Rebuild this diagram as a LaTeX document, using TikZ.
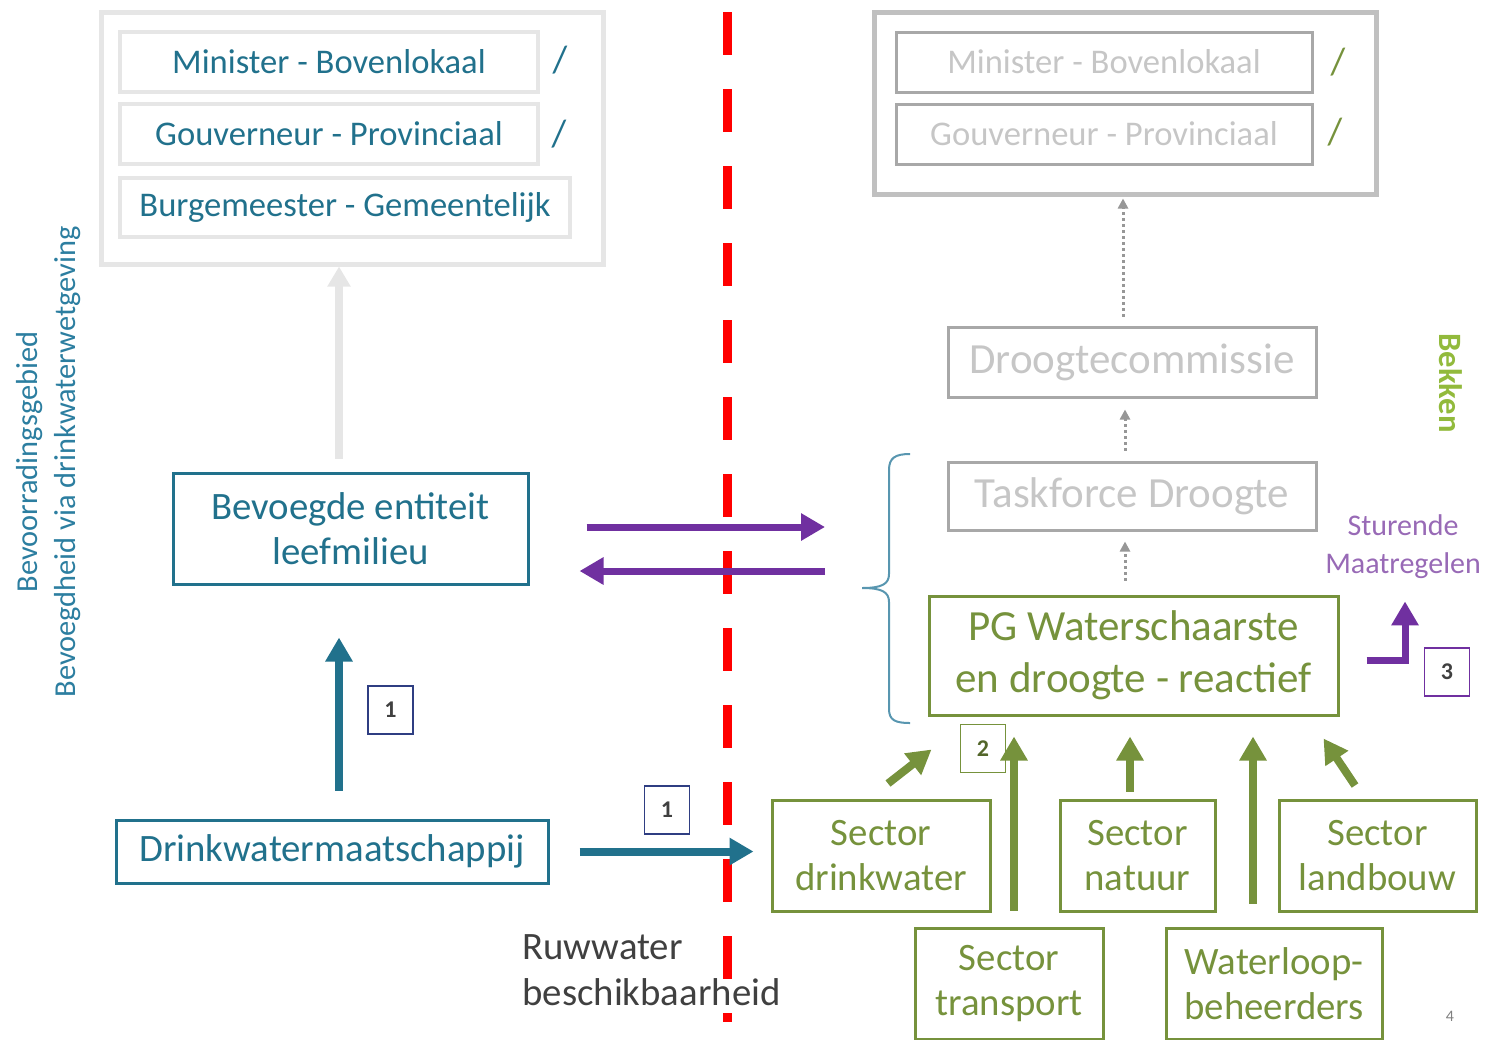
\documentclass[tikz,border=0pt]{standalone}
\usepackage{fontspec}
\setmainfont{Carlito}
\usetikzlibrary{arrows.meta}

\definecolor{tealblue}{RGB}{33,113,140}
\definecolor{leftblue}{RGB}{44,126,160}
\definecolor{olivegreen}{RGB}{118,146,60}
\definecolor{bekkengreen}{RGB}{146,186,60}
\definecolor{maatpurple}{RGB}{112,48,160}
\definecolor{sturpurple}{RGB}{152,106,182}
\definecolor{navyline}{RGB}{47,62,130}
\definecolor{lightline}{RGB}{230,230,230}
\definecolor{outerline}{RGB}{192,192,192}
\definecolor{grayline}{RGB}{168,168,168}
\definecolor{graytext}{RGB}{198,198,198}
\definecolor{bracecol}{RGB}{88,150,176}
\definecolor{darktext}{RGB}{64,64,64}

\begin{document}
\begin{tikzpicture}[x=0.5pt,y=-0.5pt,
  lbox/.style={draw=lightline,line width=2pt,text=tealblue,inner sep=0pt,minimum height=30pt,font=\fontsize{17.3}{20}\selectfont},
  rbox/.style={draw=grayline,line width=1.5pt,text=graytext,inner sep=0pt,minimum height=30pt,font=\fontsize{17.3}{20}\selectfont},
  tealbox/.style={draw=tealblue,line width=1.5pt,text=tealblue,inner sep=0pt,align=center,font=\fontsize{19.4}{22.5}\selectfont},
  greybig/.style={draw=grayline,line width=1.5pt,text=graytext,inner sep=0pt,minimum width=184pt,font=\fontsize{21.5}{26}\selectfont},
  sectorbox/.style={draw=olivegreen,line width=1.5pt,text=olivegreen,inner sep=0pt,align=center,minimum height=55.5pt,font=\fontsize{19.4}{22.5}\selectfont},
  numbox/.style={draw,line width=0.8pt,inner sep=0pt,minimum width=22.5pt,minimum height=24pt,font=\bfseries\fontsize{12}{14}\selectfont},
  slash/.style={inner sep=0pt,font=\fontsize{19}{20}\selectfont},
  tealarrow/.style={draw=tealblue,line width=4pt,-{Triangle[length=12pt,width=13pt]}},
  greenarrow/.style={draw=olivegreen,line width=4pt,-{Triangle[length=12pt,width=13pt]}},
  purplearrow/.style={draw=maatpurple,line width=3.5pt,-{Triangle[length=12pt,width=13pt]}},
  lightarrow/.style={draw=lightline,line width=4pt,-{Triangle[length=10pt,width=11pt]}},
  dotarrow/.style={draw=grayline!90!black,line width=1.5pt,dash pattern=on 1.5pt off 1.5pt,-{Triangle[length=5pt,width=5pt]}}]

\useasboundingbox (0,0) rectangle (1486,1039);

% red border line
\draw[red,line width=4.5pt,dash pattern=on 21.5pt off 17pt] (727,12) -- (727,1022);

% left: bevoegdheden
\node[draw=lightline,line width=2.5pt,minimum width=251pt,minimum height=126pt] (outerL) at (352,138) {};
\node[lbox,minimum width=209pt] (minL) at (329,62) {Minister - Bovenlokaal};
\node[lbox,minimum width=209pt] (gouvL) at (329,134) {Gouverneur - Provinciaal};
\node[lbox,minimum width=225pt,minimum height=29.5pt] (burgL) at (345,207.5) {Burgemeester - Gemeentelijk};
\node[slash,text=tealblue] (slashLa) at (560,60) {/};
\node[slash,text=tealblue] (slashLb) at (559,134) {/};

\node[tealbox,minimum width=177.5pt,minimum height=55.5pt] (bev) at (350.5,528.5) {Bevoegde entiteit\\leefmilieu};
\node[tealbox,minimum width=216pt,minimum height=31.5pt] (drink) at (332,851.5) {Drinkwatermaatschappij};

\node[rotate=90,align=center,text=leftblue,inner sep=0pt,font=\fontsize{15.2}{19}\selectfont] (gebied) at (49,462) {Bevoorradingsgebied\\Bevoegdheid via drinkwaterwetgeving};

\node[numbox,draw=navyline,text=darktext] (numA) at (390.5,710) {1};
\node[numbox,draw=navyline,text=darktext] (numB) at (667,810) {1};

\node[anchor=west,align=left,text=darktext,inner sep=0pt,font=\fontsize{19.4}{23}\selectfont] (ruw) at (522,970) {Ruwwater\\beschikbaarheid};

% right: bekken
\node[draw=outerline,line width=2.5pt,minimum width=251pt,minimum height=91pt] (outerR) at (1125,103) {};
\node[rbox,minimum width=208pt] (minR) at (1104,62) {Minister - Bovenlokaal};
\node[rbox,minimum width=208pt] (gouvR) at (1104,134) {Gouverneur - Provinciaal};
\node[slash,text=olivegreen] (slashRa) at (1338,62) {/};
\node[slash,text=olivegreen] (slashRb) at (1335,132) {/};

\node[greybig,minimum height=35pt] (droog) at (1132,362) {Droogtecommissie};
\node[greybig,minimum height=34pt] (task) at (1132,496) {Taskforce Droogte};
\node[draw=olivegreen,line width=1.5pt,text=olivegreen,inner sep=0pt,align=center,minimum width=204.5pt,minimum height=59.5pt,font=\fontsize{21.5}{26}\selectfont] (pg) at (1133.5,655.5) {PG Waterschaarste\\en droogte - reactief};

\node[rotate=-90,text=bekkengreen,inner sep=0pt,font=\bfseries\fontsize{16.3}{18}\selectfont] (bekken) at (1451,383) {Bekken};
\node[align=center,text=sturpurple,inner sep=0pt,font=\fontsize{15}{19}\selectfont] (sturende) at (1403,547) {Sturende\\Maatregelen};
\node[numbox,draw=maatpurple,text=darktext] (numC) at (1447,672) {3};
\node[numbox,draw=olivegreen,text=olivegreen!70!black] (numD) at (983,748.5) {2};

\node[sectorbox,minimum width=109pt] (sdrink) at (881,855.5) {Sector\\drinkwater};
\node[sectorbox,minimum width=77.5pt] (snat) at (1137.5,855.5) {Sector\\natuur};
\node[sectorbox,minimum width=98.5pt] (sland) at (1377.5,855.5) {Sector\\landbouw};
\node[sectorbox,minimum width=94pt] (strans) at (1009,983.5) {Sector\\transport};
\node[sectorbox,minimum width=108pt] (swater) at (1274,983.5) {Waterloop-\\beheerders};

\node[text=gray,inner sep=0pt,font=\fontsize{8}{9}\selectfont] (page) at (1450,1016) {4};

% brace
\coordinate (bracetip) at (862,588);
\draw[bracecol,line width=1pt] (910,454) .. controls (895,454) and (889,458) .. (889,470) -- (889,574)
  .. controls (889,584) and (882,588) .. (bracetip) .. controls (882,588) and (889,592) .. (889,602)
  -- (889,709) .. controls (889,720) and (895,723) .. (910,723);

% connectors
\draw[lightarrow] ([xshift=-5.75pt,yshift=6.5pt]bev.north) -- ([xshift=-5.75pt]bev.north |- outerL.south);
\draw[tealarrow] ([xshift=3.5pt,yshift=14pt]drink.north) -- ([xshift=-5.75pt,yshift=-26pt]bev.south);
\draw[tealarrow,shorten <=15pt,shorten >=8.5pt] (drink.east) -- (drink.east -| sdrink.west);
\draw[purplearrow,shorten >=18.5pt] ([xshift=28.5pt,yshift=0.75pt]bev.east) -- ([yshift=0.75pt]bev.east -| bracetip);
\draw[purplearrow,shorten >=25pt] ([xshift=-18.5pt,yshift=8.5pt]bracetip) -- ([yshift=8.5pt]bracetip -| bev.east);

\draw[dotarrow,shorten >=1pt] ([xshift=-4.5pt,yshift=4.5pt]droog.north) -- ([xshift=-4.5pt]droog.north |- outerR.south);
\draw[dotarrow,shorten >=5.5pt] ([xshift=-3.5pt,yshift=5pt]task.north) -- ([xshift=-3.5pt]task.north |- droog.south);
\draw[dotarrow,shorten >=5pt] ([xshift=-4.25pt,yshift=7pt]pg.north) -- ([xshift=-4.25pt]pg.north |- task.south);

\draw[purplearrow,shorten >=11pt] ([xshift=13.5pt,yshift=-2.25pt]pg.east) -| ([xshift=1pt]sturende.south);

\draw[greenarrow] ([xshift=3.5pt,yshift=7.5pt]sdrink.north) -- ([xshift=2pt,yshift=-16.5pt]pg.south west);
\draw[greenarrow,shorten >=10pt] ([xshift=2.5pt,yshift=8pt]strans.north) -- ([xshift=2.5pt]strans.north |- pg.south);
\draw[greenarrow,shorten >=10pt] ([xshift=-3.75pt,yshift=3.5pt]snat.north) -- ([xshift=-3.75pt]snat.north |- pg.south);
\draw[greenarrow,shorten >=10pt] ([xshift=-10.5pt,yshift=11.5pt]swater.north) -- ([xshift=-10.5pt]swater.north |- pg.south);
\draw[greenarrow] ([xshift=-11.25pt,yshift=6.5pt]sland.north) -- ([xshift=-8pt,yshift=-11pt]pg.south east);
\end{tikzpicture}
\end{document}
